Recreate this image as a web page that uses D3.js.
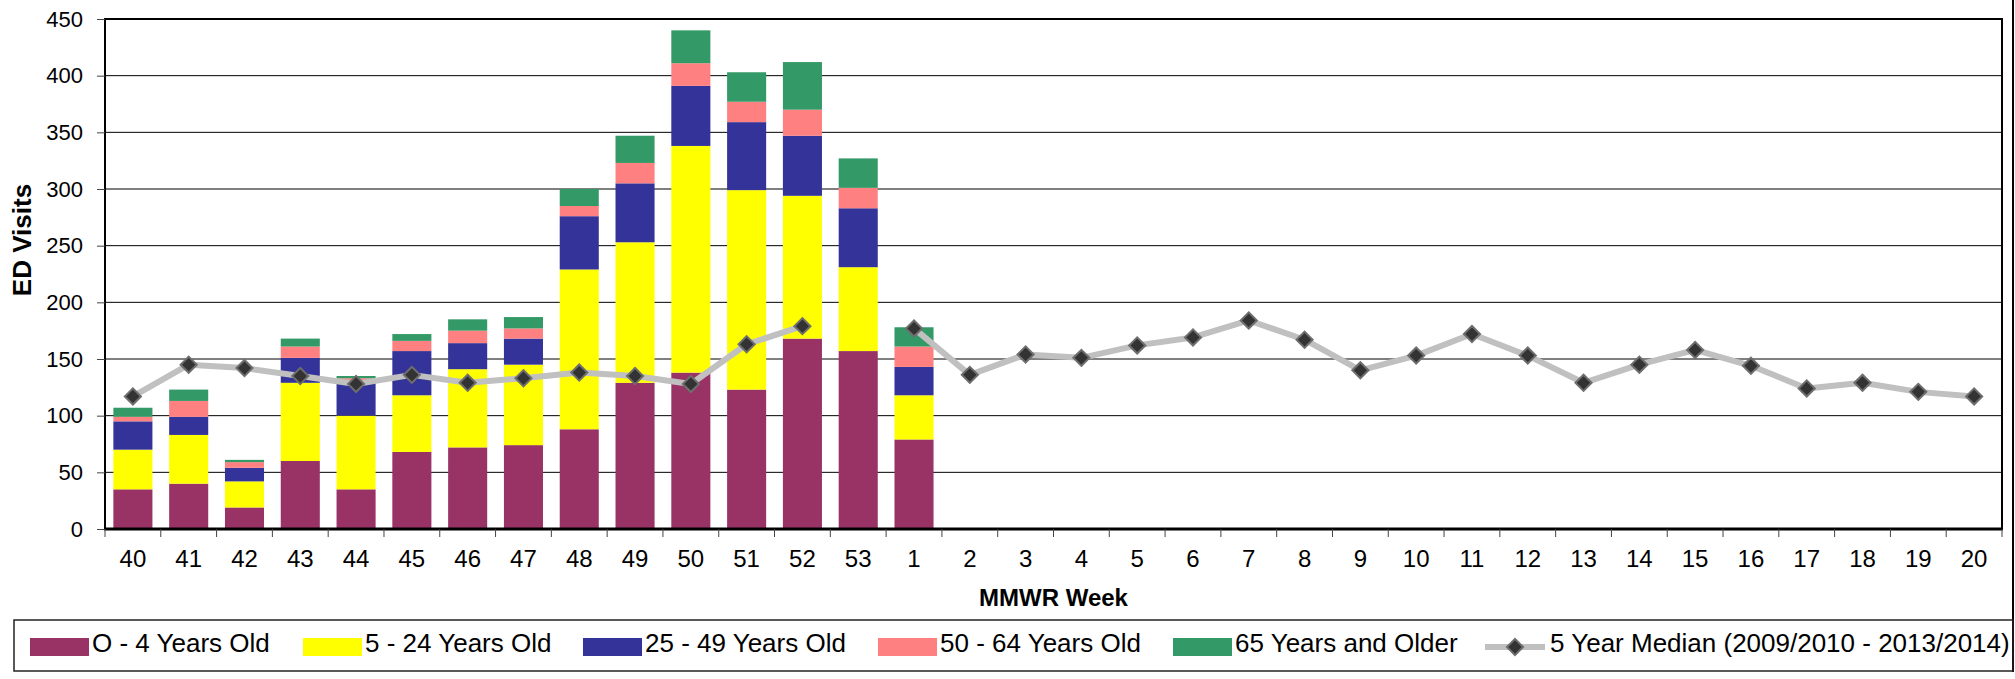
<!DOCTYPE html>
<html>
<head>
<meta charset="utf-8">
<script src="https://cdn.jsdelivr.net/npm/d3@7"></script>
<style>
body { margin: 0; background: #fff; }
text { font-family: "Liberation Sans", Arial, sans-serif; fill: #000; }
.grid line { stroke: #000; stroke-width: 1; }
.median { fill: none; stroke: #c0c0c0; stroke-width: 6; stroke-linejoin: round; }
.marker { fill: #333; stroke: #6e6e6e; stroke-width: 2; }
</style>
</head>
<body>
<script>
// weeks on the x axis
var weeks = ["40","41","42","43","44","45","46","47","48","49","50","51","52","53",
             "1","2","3","4","5","6","7","8","9","10","11","12","13","14","15","16","17","18","19","20"];

// weekly ED visits by age group (weeks 40 - 1 only)
var barWeeks   = ["40","41","42","43","44","45","46","47","48","49","50","51","52","53","1"];
var age0to4    = [35, 40, 19, 60, 35, 68, 72, 74, 88, 129, 138, 123, 168, 157, 79];
var age5to24   = [35, 43, 23, 69, 65, 50, 69, 71, 141, 124, 200, 176, 126, 74, 39];
var age25to49  = [25, 16, 12, 22, 31, 39, 23, 23, 47, 52, 53, 60, 53, 52, 25];
var age50to64  = [4, 14, 5, 10, 2, 9, 11, 9, 9, 18, 20, 18, 23, 18, 18];
var age65plus  = [8, 10, 2, 7, 2, 6, 10, 10, 15, 24, 29, 26, 42, 26, 17];

// 5 year median, week 53 has no value
var median = [117, 145, 142, 135, 128, 136, 129, 133, 138, 135, 128, 163, 179, null,
              177, 136, 154, 151, 162, 169, 184, 167, 140, 153, 172, 153, 129, 145, 158, 144, 124, 129, 121, 117];

var yTicks = [0, 50, 100, 150, 200, 250, 300, 350, 400, 450];

var seriesNames = ["O - 4 Years Old", "5 - 24 Years Old", "25 - 49 Years Old", "50 - 64 Years Old", "65 Years and Older"];
var seriesColors = ["#993366", "#ffff00", "#333399", "#ff8080", "#339966"];
var medianName = "5 Year Median (2009/2010 - 2013/2014)";

var width = 2015, height = 679;
var plot = {left: 105, right: 2002, top: 19, bottom: 529};

var svg = d3.select("body").append("svg")
    .attr("width", width)
    .attr("height", height);

var x = d3.scaleBand()
    .domain(weeks)
    .range([plot.left, plot.right])
    .paddingInner(0.3)
    .paddingOuter(0.15);

var y = d3.scaleLinear()
    .domain([0, 450])
    .range([plot.bottom, plot.top]);

// gridlines
svg.append("g")
    .attr("class", "grid")
    .selectAll("line")
    .data(yTicks.filter(d => d > 0 && d < 450))
    .enter().append("line")
    .attr("x1", plot.left)
    .attr("x2", plot.right)
    .attr("y1", d => y(d))
    .attr("y2", d => y(d));

// stacked bars
var keys = ["a", "b", "c", "d", "e"];
var table = barWeeks.map((w, i) => ({
    week: w, a: age0to4[i], b: age5to24[i], c: age25to49[i], d: age50to64[i], e: age65plus[i]
}));
var stacked = d3.stack().keys(keys)(table);

svg.append("g")
    .selectAll("g")
    .data(stacked)
    .enter().append("g")
    .attr("fill", (d, i) => seriesColors[i])
    .selectAll("rect")
    .data(d => d)
    .enter().append("rect")
    .attr("x", d => x(d.data.week))
    .attr("width", x.bandwidth())
    .attr("y", d => y(d[1]))
    .attr("height", d => y(d[0]) - y(d[1]));

// median line, gap at week 53
var medPts = weeks.map((w, i) => ({week: w, v: median[i]}));
var line = d3.line()
    .defined(d => d.v != null)
    .x(d => x(d.week) + x.bandwidth() / 2)
    .y(d => y(d.v));

svg.append("path")
    .attr("class", "median")
    .attr("d", line(medPts));

var diamond = d3.symbol().type(d3.symbolSquare).size(130);
svg.append("g")
    .selectAll("path")
    .data(medPts.filter(d => d.v != null))
    .enter().append("path")
    .attr("class", "marker")
    .attr("d", diamond)
    .attr("transform", d => "translate(" + (x(d.week) + x.bandwidth() / 2) + "," + y(d.v) + ") rotate(45)");

// frame
svg.append("rect")
    .attr("x", plot.left)
    .attr("y", plot.top)
    .attr("width", plot.right - plot.left)
    .attr("height", plot.bottom - plot.top)
    .attr("fill", "none")
    .attr("stroke", "#000")
    .attr("stroke-width", 2);
svg.append("line")
    .attr("x1", plot.left - 1).attr("x2", plot.right + 1)
    .attr("y1", plot.bottom).attr("y2", plot.bottom)
    .attr("stroke", "#000").attr("stroke-width", 3);

// y axis
var yAxis = svg.append("g")
    .attr("transform", "translate(" + plot.left + ",0)")
    .call(d3.axisLeft(y).tickValues(yTicks).tickSize(8).tickPadding(14));
yAxis.select(".domain").remove();
yAxis.selectAll(".tick line").attr("stroke", "#444");
yAxis.selectAll("text")
    .style("font-size", "22px")
    .attr("dy", "0.33em");

// x axis, ticks on category boundaries
var step = x.step();
var bounds = d3.range(weeks.length + 1).map(i => plot.left + i * step);
svg.append("g")
    .selectAll("line")
    .data(bounds)
    .enter().append("line")
    .attr("x1", d => d).attr("x2", d => d)
    .attr("y1", plot.bottom).attr("y2", plot.bottom + 8)
    .attr("stroke", "#444");

svg.append("g")
    .selectAll("text")
    .data(weeks)
    .enter().append("text")
    .attr("x", d => x(d) + x.bandwidth() / 2)
    .attr("y", 567)
    .attr("text-anchor", "middle")
    .style("font-size", "24px")
    .text(d => d);

// axis titles
svg.append("text")
    .attr("transform", "translate(31,240) rotate(-90)")
    .attr("text-anchor", "middle")
    .style("font-size", "26px")
    .style("font-weight", "bold")
    .text("ED Visits");

svg.append("text")
    .attr("x", (plot.left + plot.right) / 2)
    .attr("y", 606)
    .attr("text-anchor", "middle")
    .style("font-size", "24px")
    .style("font-weight", "bold")
    .text("MMWR Week");

// right border
svg.append("line")
    .attr("x1", 2013).attr("x2", 2013)
    .attr("y1", 0).attr("y2", 672)
    .attr("stroke", "#000").attr("stroke-width", 2);

// legend
svg.append("rect")
    .attr("x", 14).attr("y", 620)
    .attr("width", 1999).attr("height", 51)
    .attr("fill", "none")
    .attr("stroke", "#222")
    .attr("stroke-width", 1.5);

var legendX = [30, 303, 583, 878, 1173];
var leg = svg.append("g")
    .selectAll("g")
    .data(seriesNames)
    .enter().append("g")
    .attr("transform", (d, i) => "translate(" + legendX[i] + ",638)");
leg.append("rect")
    .attr("width", 59).attr("height", 18)
    .attr("fill", (d, i) => seriesColors[i]);
leg.append("text")
    .attr("x", 62).attr("y", 14)
    .style("font-size", "26px")
    .text(d => d);

var medLeg = svg.append("g").attr("transform", "translate(1485,647)");
medLeg.append("line")
    .attr("x1", 0).attr("x2", 60)
    .attr("class", "median");
medLeg.append("path")
    .attr("class", "marker")
    .attr("d", diamond)
    .attr("transform", "translate(30,0) rotate(45)");
medLeg.append("text")
    .attr("x", 65).attr("y", 5)
    .style("font-size", "26px")
    .text(medianName);
</script>
</body>
</html>
